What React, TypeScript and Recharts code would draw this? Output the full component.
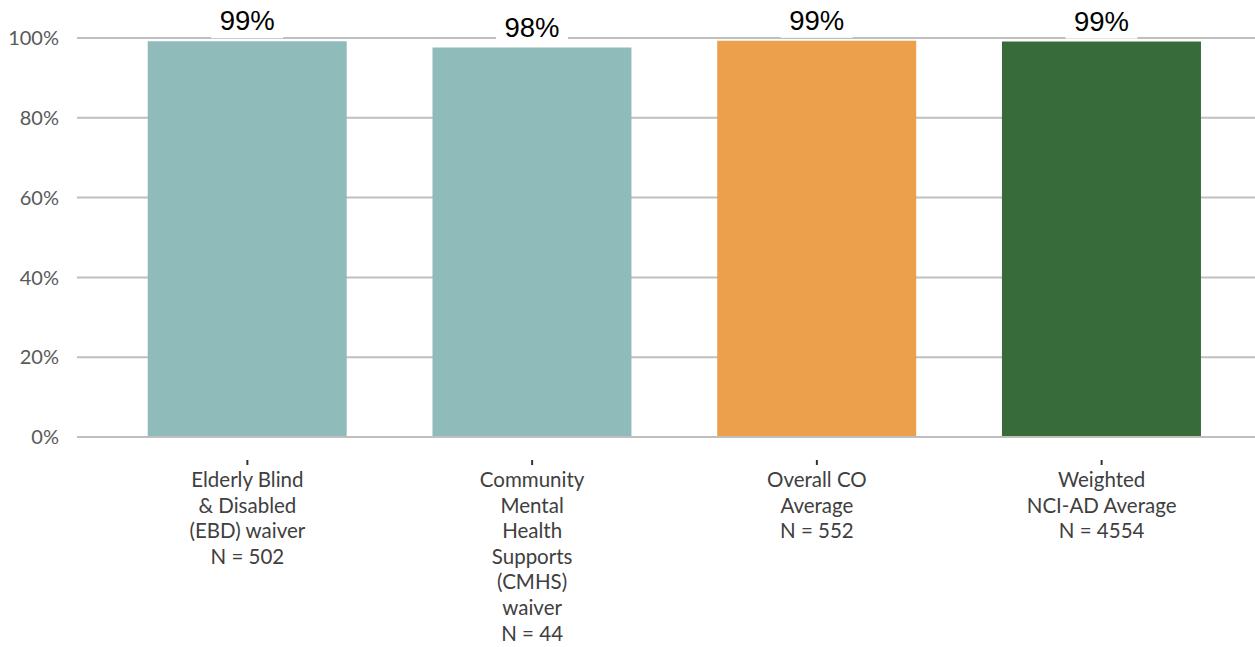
import React from 'react';
import { BarChart, Bar, XAxis, YAxis, CartesianGrid, Cell, LabelList } from 'recharts';

const categories = [
  'Elderly Blind\n& Disabled\n(EBD) waiver\nN = 502',
  'Community\nMental\nHealth\nSupports\n(CMHS)\nwaiver\nN = 44',
  'Overall CO\nAverage\nN = 552',
  'Weighted\nNCI-AD Average\nN = 4554'
];
const values = [99.2, 97.6, 99.3, 99.1];
const barColors = ['#8fbcbb', '#8fbcbb', '#eca04c', '#386b3a'];
const yTicks = [0, 20, 40, 60, 80, 100];

const data = categories.map((name, i) => ({ name, value: values[i] }));

const CategoryTick = (props: any) => {
  const { x, y, payload } = props;
  const lines = String(payload.value).split('\n');
  return (
    <g>
      <line x1={x} x2={x} y1={y + 23} y2={y + 28} stroke="#333" strokeWidth={2} />
      <text
        textAnchor="middle"
        fill="#404040"
        fontSize={20.5}
        fontFamily="Lato, 'Open Sans', sans-serif"
      >
        {lines.map((l, i) => (
          <tspan key={i} x={x} y={y + 50 + i * 25.6}>
            {l}
          </tspan>
        ))}
      </text>
    </g>
  );
};

const ValueLabel = (props: any) => {
  const { x, y, width, value } = props;
  const cx = x + width / 2;
  const cy = y - 21;
  return (
    <g>
      <rect x={cx - 36} y={cy - 16} width={72} height={34} fill="#fff" />
      <text
        x={cx}
        y={cy + 10}
        textAnchor="middle"
        fill="#000"
        fontSize={27.5}
        fontFamily="Arial, 'Liberation Sans', sans-serif"
      >
        {Math.round(value)}%
      </text>
    </g>
  );
};

const App = () => {
  return (
    <div style={{ position: 'absolute', left: 0, top: 0 }}>
      <BarChart
        width={1255}
        height={647}
        data={data}
        margin={{ top: 38, right: 0, bottom: 10, left: 0 }}
        barCategoryGap="15%"
      >
        <CartesianGrid vertical={false} stroke="#bfbfbf" strokeWidth={2} />
        <XAxis
          dataKey="name"
          interval={0}
          height={200}
          tickLine={false}
          tickSize={0}
          tickMargin={0}
          axisLine={{ stroke: '#bfbfbf', strokeWidth: 2 }}
          padding={{ left: 28, right: 11 }}
          tick={<CategoryTick />}
        />
        <YAxis
          width={77}
          domain={[0, 100]}
          ticks={yTicks}
          tickFormatter={(v) => `${v}%`}
          axisLine={false}
          tickLine={false}
          tickMargin={12}
          tick={{ fill: '#595959', fontSize: 20, fontFamily: "Lato, 'Open Sans', sans-serif" }}
        />
        <Bar dataKey="value" isAnimationActive={false}>
          {data.map((d, i) => (
            <Cell key={d.name} fill={barColors[i]} />
          ))}
          <LabelList dataKey="value" content={<ValueLabel />} />
        </Bar>
      </BarChart>
    </div>
  );
};

export default App;
